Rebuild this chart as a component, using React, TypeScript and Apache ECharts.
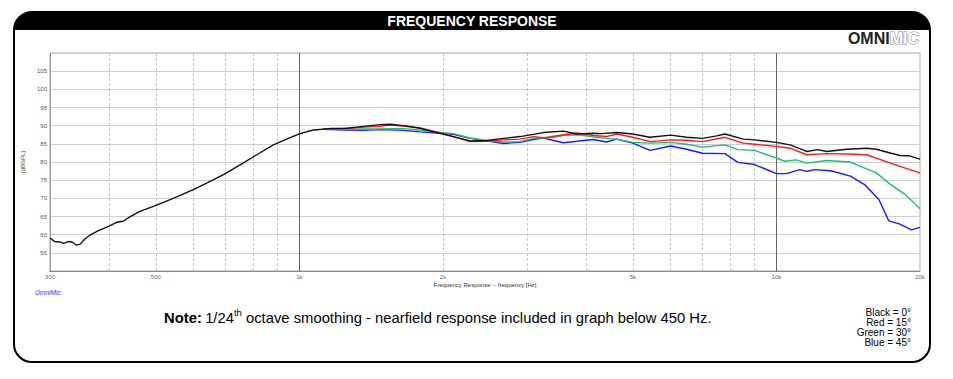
import React, { useEffect, useRef } from "react";
import * as echarts from "echarts";

// ---- data ----
const blackFreq = [300, 307, 315, 320, 328, 334, 341, 347, 355, 364, 379, 398, 414, 427, 441, 463, 494, 519, 553, 599, 639, 693, 751, 814, 882, 956, 1003, 1070, 1160, 1257, 1362, 1476, 1549, 1651, 1790, 1940, 2102, 2279, 2470, 2677, 2901, 3093, 3246, 3576, 3816, 4134, 4300, 4626, 5000, 5433, 6000, 6484, 7000, 7496, 7800, 8522, 9000, 10000, 10680, 11574, 12200, 12746, 14043, 15462, 16200, 17400, 18157, 19000, 20000];
const blackDb = [59.1, 58.1, 58.0, 57.6, 58.1, 58.0, 57.1, 57.4, 58.8, 59.9, 61.1, 62.3, 63.4, 63.7, 64.9, 66.4, 67.8, 68.9, 70.4, 72.4, 74.2, 76.5, 79.2, 82.0, 84.7, 86.7, 87.8, 88.8, 89.2, 89.3, 89.8, 90.3, 90.4, 90.0, 89.3, 88.1, 87.0, 85.8, 85.9, 86.5, 87.0, 87.6, 88.1, 88.5, 87.7, 87.9, 87.8, 88.1, 87.7, 86.8, 87.4, 86.8, 86.5, 87.2, 87.7, 86.3, 86.1, 85.4, 84.7, 82.9, 83.4, 82.9, 83.5, 83.8, 83.5, 82.4, 81.8, 81.7, 80.8];

const redFreq = [1120, 1257, 1362, 1476, 1549, 1651, 1790, 1940, 2102, 2279, 2470, 2677, 2901, 3093, 3246, 3576, 3816, 4134, 4400, 4626, 5000, 5433, 6000, 6484, 7000, 7800, 8522, 9000, 10000, 10680, 11574, 12746, 14043, 15462, 16756, 18157, 20000];
const redDb = [89.1, 89.2, 89.6, 89.8, 90.2, 89.9, 89.4, 88.3, 87.0, 85.6, 85.7, 86.1, 86.3, 87.0, 86.6, 87.5, 88.0, 87.3, 87.0, 87.7, 86.8, 85.6, 86.1, 86.0, 85.6, 86.8, 85.2, 84.9, 84.3, 83.8, 82.0, 82.3, 82.2, 82.0, 80.4, 78.8, 77.0];

const greenFreq = [1120, 1257, 1362, 1476, 1651, 1790, 1940, 2102, 2279, 2470, 2677, 2901, 3093, 3400, 3576, 3816, 4134, 4400, 4626, 5000, 5433, 6000, 6484, 7000, 7800, 8300, 9000, 10000, 10400, 11000, 11574, 12746, 14300, 15000, 16200, 17200, 18600, 20000];
const greenDb = [89.1, 89.0, 89.1, 89.1, 89.2, 88.8, 88.3, 87.8, 86.6, 85.9, 85.5, 85.6, 86.5, 86.7, 87.3, 87.5, 86.9, 86.5, 86.3, 85.4, 85.2, 85.4, 84.9, 84.1, 84.7, 83.4, 83.2, 81.1, 80.2, 80.6, 79.7, 80.4, 80.0, 78.8, 77.0, 74.2, 71.1, 67.1];

const blueFreq = [1120, 1257, 1362, 1476, 1651, 1790, 1940, 2102, 2279, 2470, 2677, 2901, 3093, 3246, 3576, 3816, 4134, 4400, 4626, 5000, 5433, 6000, 6484, 7000, 7800, 8300, 9000, 10000, 10500, 11200, 11574, 12000, 13000, 14300, 15300, 16400, 17200, 18157, 19200, 20000];
const blueDb = [89.0, 88.8, 88.7, 88.9, 88.7, 88.3, 88.0, 87.6, 86.5, 85.8, 85.1, 85.4, 86.2, 86.6, 85.3, 85.7, 86.2, 85.5, 86.3, 85.2, 83.2, 84.4, 83.5, 82.4, 82.3, 79.9, 79.3, 76.8, 76.8, 77.9, 77.4, 77.9, 77.6, 76.1, 73.8, 69.7, 63.8, 62.9, 61.3, 62.0];

const tickFreqs = [300, 500, 1000, 2000, 5000, 10000, 20000];
const tickLabels = ["300", "500", "1k", "2k", "5k", "10k", "20k"];
const minorGridFreqs = [400, 500, 600, 700, 800, 900, 2000, 3000, 4000, 5000, 6000, 7000, 8000, 9000];
const majorGridFreqs = [1000, 10000];
const legendLines = ["Black = 0°", "Red = 15°", "Green = 30°", "Blue = 45°"];

const zip = (f: number[], d: number[]) => f.map((v, i) => [v, d[i]]);

export default function App() {
  const ref = useRef<HTMLDivElement>(null);
  useEffect(() => {
    if (!ref.current) return;
    const chart = echarts.init(ref.current, null, { renderer: "svg" });
    const curve = (name: string, color: string, data: number[][]) => ({
      name,
      type: "line",
      data,
      showSymbol: false,
      symbol: "none",
      smooth: false,
      lineStyle: { color, width: 1.4 },
      z: 5,
    });
    chart.setOption({
      animation: false,
      backgroundColor: "#fff",
      grid: { left: 50, top: 53, width: 870, height: 218, show: true, borderColor: "#aaa", borderWidth: 1, backgroundColor: "transparent" },
      xAxis: {
        type: "log",
        logBase: 10,
        min: 300,
        max: 20000,
        axisLabel: { show: false },
        axisTick: { show: false },
        splitLine: { show: false },
        minorSplitLine: { show: false },
        axisLine: { lineStyle: { color: "#888", width: 1 } },
        name: "Frequency Response -- frequency [Hz]",
        nameLocation: "middle",
        nameGap: 11,
        nameTextStyle: { fontSize: 6, color: "#333", fontFamily: "Liberation Sans" },
      },
      yAxis: {
        type: "value",
        min: 50,
        max: 110,
        interval: 5,
        axisLabel: {
          fontSize: 6,
          color: "#555",
          margin: 3,
          fontFamily: "Liberation Sans",
          formatter: (v: number) => (v === 50 || v === 110 ? "" : String(v)),
        },
        axisTick: { show: false },
        axisLine: { show: true, lineStyle: { color: "#999" } },
        splitLine: { lineStyle: { color: "#cfcfcf", width: 1 } },
        name: "[dBSPL]",
        nameLocation: "middle",
        nameRotate: 90,
        nameGap: 14,
        nameTextStyle: { fontSize: 6, color: "#444", fontFamily: "Liberation Sans" },
      },
      series: [
        {
          type: "line",
          data: [],
          silent: true,
          markLine: {
            silent: true,
            symbol: ["none", "none"],
            label: { show: false },
            animation: false,
            data: [
              ...minorGridFreqs.map((f) => ({ xAxis: f, lineStyle: { type: [3, 2], color: "#c4c4c4", width: 1 } })),
              ...majorGridFreqs.map((f) => ({ xAxis: f, lineStyle: { type: "solid", color: "#666", width: 1 } })),
            ],
          },
        },
        {
          type: "scatter",
          data: tickFreqs.map((f) => [f, 50]),
          symbolSize: 0.1,
          clip: false,
          silent: true,
          label: {
            show: true,
            position: "bottom",
            distance: 3,
            fontSize: 6,
            color: "#333",
            fontFamily: "Liberation Sans",
            formatter: (p: any) => tickLabels[p.dataIndex],
          },
        },
        curve("Blue", "#1a1aff", zip(blueFreq, blueDb)),
        curve("Green", "#17c07a", zip(greenFreq, greenDb)),
        curve("Red", "#ff1a1a", zip(redFreq, redDb)),
        curve("Black", "#111111", zip(blackFreq, blackDb)),
      ],
      graphic: [
        { type: "rect", shape: { x: 14, y: 12, width: 916, height: 350, r: 18 }, style: { fill: "none", stroke: "#000", lineWidth: 2 }, z: 10 },
        { type: "rect", shape: { x: 14, y: 12, width: 916, height: 18, r: [18, 18, 0, 0] }, style: { fill: "#000" }, z: 11 },
        { type: "text", x: 472, y: 21, style: { text: "FREQUENCY RESPONSE", fill: "#fff", font: "bold 14px 'Liberation Sans', Arial", align: "center", verticalAlign: "middle" }, z: 12 },
        {
          type: "text",
          x: 919,
          y: 38,
          style: {
            text: "{a|OMNI}{b|MIC}",
            align: "right",
            verticalAlign: "middle",
            rich: {
              a: { fontSize: 16, fontWeight: 900, fontFamily: "Liberation Sans", fill: "#222" },
              b: { fontSize: 16, fontWeight: 900, fontFamily: "Liberation Sans", fill: "#fff", stroke: "#777", lineWidth: 1 },
            },
          },
          z: 12,
        },
        { type: "text", x: 35, y: 292, style: { text: "OmniMic", fill: "#3333ff", font: "italic 6.5px 'Liberation Sans'", verticalAlign: "middle" }, z: 12 },
        {
          type: "text",
          x: 164,
          y: 318,
          style: {
            text: "{b|Note:} {n|1/24}{s|th}{n| octave smoothing - nearfield response included in graph below 450 Hz.}",
            verticalAlign: "middle",
            rich: {
              b: { fontSize: 14.8, fontWeight: "bold", fontFamily: "Liberation Sans", fill: "#000", lineHeight: 22 },
              n: { fontSize: 14.8, fontFamily: "Liberation Sans", fill: "#000", lineHeight: 22 },
              s: { fontSize: 9.5, fontFamily: "Liberation Sans", fill: "#000", verticalAlign: "top", lineHeight: 12 },
            },
          },
          z: 12,
        },
        ...legendLines.map((t, i) => ({
          type: "text",
          x: 911,
          y: 312 + i * 10,
          style: { text: t, fill: "#000", font: "10px 'Liberation Sans'", align: "right", verticalAlign: "middle" },
          z: 12,
        })),
      ],
    });
    return () => chart.dispose();
  }, []);
  return <div ref={ref} style={{ position: "absolute", left: 0, top: 0, width: 953, height: 379 }} />;
}
